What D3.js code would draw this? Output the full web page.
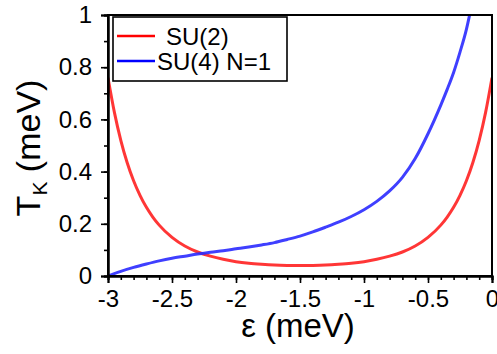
<!DOCTYPE html>
<html>
<head>
<meta charset="utf-8">
<script src="https://cdn.jsdelivr.net/npm/d3@7"></script>
<style>
  html, body { margin: 0; padding: 0; background: #fff; }
  svg { display: block; }
  text { font-family: "Liberation Sans", Arial, Helvetica, sans-serif; fill: #000; }
</style>
</head>
<body>
<svg id="chart" width="497" height="354"></svg>
<script>
// ---- data ----
const epsSU2 = [-3, -2.95, -2.9, -2.85, -2.8, -2.75, -2.7, -2.65, -2.6, -2.5, -2.4, -2.3, -2.2, -2.1, -2.0, -1.9, -1.8, -1.7, -1.6, -1.5,
                -1.4, -1.3, -1.2, -1.1, -1.0, -0.9, -0.8, -0.7, -0.6, -0.5, -0.4, -0.35, -0.3, -0.25, -0.2, -0.15, -0.1, -0.05, 0];
const tkSU2  = [0.760, 0.627, 0.520, 0.434, 0.365, 0.309, 0.263, 0.226, 0.195, 0.148, 0.115, 0.092, 0.076, 0.064, 0.055, 0.049, 0.045, 0.042, 0.0405, 0.040,
                0.0405, 0.042, 0.045, 0.049, 0.055, 0.064, 0.076, 0.092, 0.115, 0.148, 0.195, 0.226, 0.263, 0.309, 0.365, 0.434, 0.520, 0.627, 0.760];

const epsSU4 = [-3, -2.9, -2.8, -2.7, -2.6, -2.5, -2.4, -2.3, -2.2, -2.1, -2.0, -1.9, -1.8, -1.7, -1.6, -1.5, -1.4, -1.3, -1.2, -1.1,
                -1.0, -0.9, -0.8, -0.7, -0.6, -0.5, -0.4, -0.35, -0.3, -0.25, -0.2, -0.175];
const tkSU4  = [0.000, 0.018, 0.033, 0.046, 0.058, 0.068, 0.076, 0.084, 0.091, 0.097, 0.104, 0.111, 0.119, 0.128, 0.140, 0.153, 0.169, 0.187, 0.206, 0.228,
                0.254, 0.286, 0.326, 0.378, 0.450, 0.545, 0.655, 0.715, 0.780, 0.858, 0.945, 1.000];

const seriesNames = ["SU(2)", "SU(4) N=1"];
const xTickValues = [-3, -2.5, -2, -1.5, -1, -0.5, 0];
const xTickLabels = ["-3", "-2.5", "-2", "-1.5", "-1", "-0.5", "0"];
const yTickValues = [0, 0.2, 0.4, 0.6, 0.8, 1];
const yTickLabels = ["0", "0.2", "0.4", "0.6", "0.8", "1"];
const xMinorTicks = d3.range(-3, 0.001, 0.1).map(v => +v.toFixed(2));
const yMinorTicks = d3.range(0, 1.001, 0.1).map(v => +v.toFixed(2));

// ---- layout ----
const svg = d3.select("#chart");
const L = 108, R = 492, T = 15, B = 276;
const x = d3.scaleLinear().domain([-3, 0]).range([L, R]);
const y = d3.scaleLinear().domain([0, 1]).range([B, T]);
const colors = ["#ff2020", "#2a2aff"];

// clip
svg.append("defs").append("clipPath").attr("id", "clip")
  .append("rect").attr("x", L).attr("y", T).attr("width", R - L).attr("height", B - T);

// curves
const line = d3.line().x(d => x(d[0])).y(d => y(d[1])).curve(d3.curveMonotoneX);
const data = [d3.zip(epsSU2, tkSU2), d3.zip(epsSU4, tkSU4)];
svg.append("g").attr("clip-path", "url(#clip)")
  .selectAll("path").data(data).join("path")
  .attr("d", line)
  .attr("fill", "none")
  .attr("stroke", (d, i) => colors[i])
  .attr("stroke-opacity", 0.9)
  .attr("stroke-width", 3);

// frame
svg.append("rect").attr("x", L).attr("y", T).attr("width", R - L).attr("height", B - T)
  .attr("fill", "none").attr("stroke", "#000").attr("stroke-width", 2);

// axes
const fontTick = 24;
const xAxisMinor = d3.axisBottom(x).tickValues(xMinorTicks).tickSize(4).tickFormat("");
const xAxis = d3.axisBottom(x).tickValues(xTickValues).tickSize(7).tickPadding(7)
  .tickFormat((d, i) => xTickLabels[i]);
const yAxisMinor = d3.axisLeft(y).tickValues(yMinorTicks).tickSize(4).tickFormat("");
const yAxis = d3.axisLeft(y).tickValues(yTickValues).tickSize(7).tickPadding(9)
  .tickFormat((d, i) => yTickLabels[i]);

function style(g) {
  g.select(".domain").attr("stroke", "#000").attr("stroke-width", 2);
  g.selectAll(".tick line").attr("stroke", "#000").attr("stroke-width", 1.6);
  g.selectAll("text").attr("font-size", fontTick).attr("fill", "#000")
    .style("font-family", "'Liberation Sans', Arial, sans-serif");
}
svg.append("g").attr("transform", `translate(0,${B})`).call(xAxisMinor).call(style);
svg.append("g").attr("transform", `translate(0,${B})`).call(xAxis).call(style)
  .selectAll("text").attr("dy", "0.72em");
svg.append("g").attr("transform", `translate(${L},0)`).call(yAxisMinor).call(style);
svg.append("g").attr("transform", `translate(${L},0)`).call(yAxis).call(style);

// axis titles
svg.append("text")
  .attr("x", (L + R) / 2 - 2).attr("y", 337)
  .attr("text-anchor", "middle").attr("font-size", 33)
  .text("ε (meV)");

const yt = svg.append("text")
  .attr("transform", "translate(40,148) rotate(-90)")
  .attr("text-anchor", "middle").attr("font-size", 34);
yt.append("tspan").text("T");
yt.append("tspan").attr("font-size", 21).attr("dy", 7).text("K");
yt.append("tspan").attr("dy", -7).text(" (meV)");

// legend
const lg = svg.append("g");
lg.append("rect").attr("x", 113).attr("y", 17).attr("width", 174).attr("height", 64)
  .attr("fill", "#fff").attr("stroke", "#000").attr("stroke-width", 1.6);
const rowsY = [36, 61];
const textX = [166, 157];
seriesNames.forEach((name, i) => {
  lg.append("line").attr("x1", 117).attr("x2", 155).attr("y1", rowsY[i]).attr("y2", rowsY[i])
    .attr("stroke", i === 0 ? "#ff0000" : "#0000ff").attr("stroke-width", 2.5);
  lg.append("text").attr("x", textX[i]).attr("y", rowsY[i] + 8.5)
    .attr("font-size", 24).text(name);
});
</script>
</body>
</html>
